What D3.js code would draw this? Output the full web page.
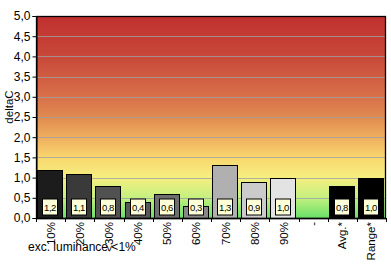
<!DOCTYPE html>
<html><head><meta charset="utf-8">
<script src="https://cdn.jsdelivr.net/npm/d3@7"></script>
<style>body{margin:0;background:#fff}svg{display:block;font-family:Arial,"Liberation Sans",sans-serif}</style>
</head><body><svg id="c" width="391" height="264"></svg>
<script>
const categories = ["10%","20%","<30%","40%","50%","60%","70%","80%","90%","-","Avg.*","Range*"];
const values = [1.2,1.1,0.8,0.4,0.6,0.3,1.3,0.9,1.0,null,0.8,1.0];
const labels = ["1,2","1,1","0,8","0,4","0,6","0,3","1,3","0,9","1,0",null,"0,8","1,0"];
const barColors = ["#1c1c1c","#3a3a3a","#515151","#575757","#6e6e6e","#888888","#b0b0b0","#cbcbcb","#e3e3e3","#fff","#000000","#000000"];
const yTicks = [0,0.5,1,1.5,2,2.5,3,3.5,4,4.5,5];
const yTitle = "deltaC";
const xTitle = "exc. luminance <1%";

const svg = d3.select("#c");
const L=36,R=386,T=16,B=218;
const x = d3.scaleBand().domain(categories).range([L,R]).padding(0);
const y = d3.scaleLinear().domain([0,5]).range([B,T]);

const defs = svg.append("defs");
const g = defs.append("linearGradient").attr("id","bg").attr("x1",0).attr("y1",0).attr("x2",0).attr("y2",1);
[[0,"#c0302f"],[0.2,"#c84839"],[0.4,"#d8704a"],[0.5,"#e08a50"],[0.6,"#efae5e"],[0.7,"#f8d66e"],[0.8,"#f6ef80"],[0.9,"#c4f080"],[1,"#68e068"]]
 .forEach(([o,c])=>g.append("stop").attr("offset",o).attr("stop-color",c));

svg.append("rect").attr("x",L).attr("y",T).attr("width",R-L).attr("height",B-T).attr("fill","url(#bg)");

// gridlines
svg.append("g").selectAll("line").data(yTicks.filter(d=>d>0&&d<5)).join("line")
 .attr("x1",L).attr("x2",R).attr("y1",d=>Math.round(y(d))+0.5).attr("y2",d=>Math.round(y(d))+0.5)
 .attr("stroke","#a0a0a0").attr("stroke-opacity",0.8).attr("stroke-width",1);

// bars
const bw = x.bandwidth();
svg.append("g").selectAll("rect").data(categories.map((c,i)=>({c,v:values[i],col:barColors[i]})).filter(d=>d.v!=null)).join("rect")
 .attr("x",d=>Math.round(x(d.c))+1.5).attr("y",d=>Math.round(y(d.v))+0.5)
 .attr("width",Math.round(bw)-4).attr("height",d=>B-Math.round(y(d.v)))
 .attr("fill",d=>d.col).attr("stroke","#000").attr("stroke-width",1);

// value labels
const lg = svg.append("g").selectAll("g").data(categories.map((c,i)=>({c,l:labels[i]})).filter(d=>d.l)).join("g")
 .attr("transform",d=>`translate(${Math.round(x(d.c))+1.5+(Math.round(bw)-4)/2},207)`);
lg.append("rect").attr("x",-7.5).attr("y",-8).attr("width",15).attr("height",16)
 .attr("fill","#ffffd8").attr("stroke","#000").attr("stroke-width",1);
lg.append("text").attr("text-anchor","middle").attr("y",3.5).attr("font-size",9.5).attr("letter-spacing",-0.4).attr("fill","#000").text(d=>d.l);

// frame
svg.append("rect").attr("x",L+0.5).attr("y",T+0.5).attr("width",R-L-1).attr("height",B-T)
 .attr("fill","none").attr("stroke","#000").attr("stroke-width",1.3);

// y axis
const ya = svg.append("g").attr("transform",`translate(${L+0.5},0)`)
 .call(d3.axisLeft(y).tickValues(yTicks).tickSize(4).tickPadding(2).tickFormat(d=>d3.format(".1f")(d).replace(".",",")));
ya.select(".domain").attr("stroke","#000");
ya.selectAll("text").attr("font-size",12).attr("fill","#000").attr("font-family","Arial,'Liberation Sans',sans-serif");
ya.selectAll("line").attr("stroke","#000");

// x axis ticks at boundaries
svg.append("g").selectAll("line").data(d3.range(categories.length+1)).join("line")
 .attr("x1",i=>Math.round(L+i*bw)+0.5).attr("x2",i=>Math.round(L+i*bw)+0.5)
 .attr("y1",B).attr("y2",B+4).attr("stroke","#000");
svg.append("line").attr("x1",L).attr("x2",R).attr("y1",B+0.5).attr("y2",B+0.5).attr("stroke","#000").attr("stroke-width",1.3);

// x labels rotated
svg.append("g").selectAll("text").data(categories).join("text")
 .attr("transform",d=>`translate(${x(d)+bw/2+4},222) rotate(-90)`)
 .attr("text-anchor","end").attr("font-size",11.5).attr("fill","#000").text(d=>d);

// titles
svg.append("text").attr("x",28).attr("y",251).attr("font-size",12).attr("fill","#000").text(xTitle);
svg.append("text").attr("transform","translate(13,107) rotate(-90)").attr("text-anchor","middle")
 .attr("font-size",11.5).attr("fill","#000").text(yTitle);
</script></body></html>
